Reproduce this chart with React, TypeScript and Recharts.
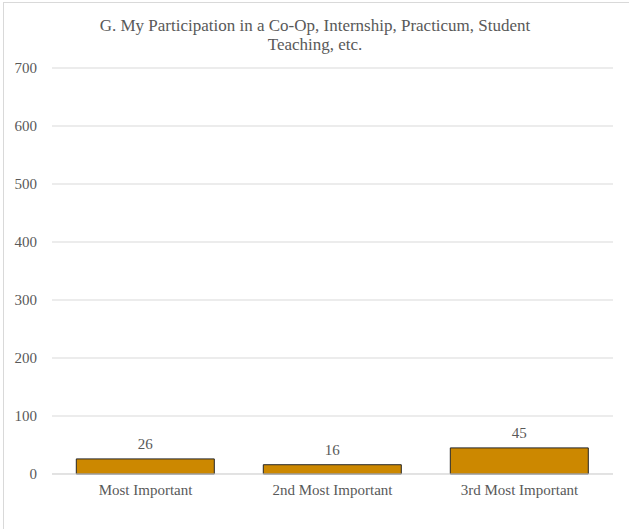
import { BarChart, Bar, XAxis, YAxis, CartesianGrid, LabelList } from 'recharts'

const categories = ['Most Important', '2nd Most Important', '3rd Most Important']
const counts = [26, 16, 45]
const yTicks = [0, 100, 200, 300, 400, 500, 600, 700]

const FONT = '"Liberation Serif", "Times New Roman", serif'
const TEXT = '#595959'

export default function App() {
  const data = categories.map((name, i) => ({ name, value: counts[i] }))

  return (
    <div style={{ position: 'fixed', left: 0, top: 0, width: 629, height: 529, background: '#fff', overflow: 'hidden', fontFamily: FONT }}>
      <div style={{ position: 'absolute', left: 3, top: 2, width: 700, height: 600, borderLeft: '1px solid #d9d9d9', borderTop: '1px solid #d9d9d9' }} />
      <div style={{ position: 'absolute', left: 40, top: 16, width: 550, textAlign: 'center', color: TEXT, fontSize: 17, lineHeight: '19px' }}>
        G. My Participation in a Co-Op, Internship, Practicum, Student<br />Teaching, etc.
      </div>
      <BarChart
        width={629}
        height={529}
        data={data}
        margin={{ top: 68, right: 16, bottom: 25, left: 0 }}
        barCategoryGap="13%"
        style={{ position: 'absolute', left: 0, top: 0 }}
      >
        <CartesianGrid vertical={false} stroke="#d9d9d9" />
        <XAxis
          dataKey="name"
          height={30}
          axisLine={{ stroke: '#d9d9d9' }}
          tickLine={false}
          tickSize={0}
          tickMargin={10}
          tick={{ fill: TEXT, fontSize: 15, fontFamily: FONT }}
        />
        <YAxis
          width={52}
          domain={[0, 700]}
          ticks={yTicks}
          axisLine={false}
          tickLine={false}
          tickSize={0}
          tickMargin={15}
          tick={{ fill: TEXT, fontSize: 15, fontFamily: FONT }}
        />
        <Bar dataKey="value" fill="#cc8800" stroke="#262626" strokeWidth={1} isAnimationActive={false}>
          <LabelList dataKey="value" position="top" offset={10} fill={TEXT} fontSize={15} fontFamily={FONT} />
        </Bar>
      </BarChart>
    </div>
  )
}
